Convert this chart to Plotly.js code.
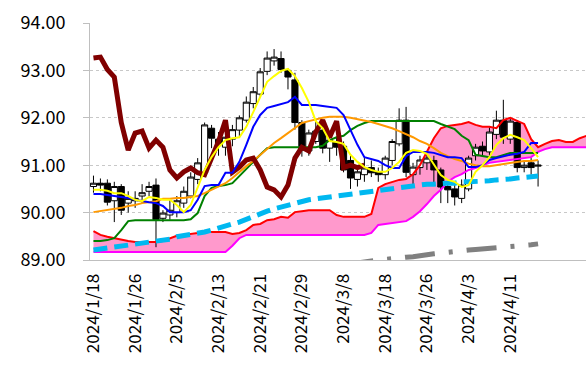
<!DOCTYPE html>
<html>
<head>
<meta charset="utf-8">
<script src="https://cdn.plot.ly/plotly-3.0.1.min.js"></script>
<style>html,body{margin:0;padding:0;background:#fff;}#chart{width:586px;height:379px;}</style>
</head>
<body>
<div id="chart"></div>
<script>
// Categories (business days)
const dates = ["2024/1/18","2024/1/19","2024/1/22","2024/1/23","2024/1/24","2024/1/25","2024/1/26","2024/1/29","2024/1/30","2024/1/31","2024/2/1","2024/2/2","2024/2/5","2024/2/6","2024/2/7","2024/2/8","2024/2/9","2024/2/12","2024/2/13","2024/2/14","2024/2/15","2024/2/16","2024/2/19","2024/2/20","2024/2/21","2024/2/22","2024/2/23","2024/2/26","2024/2/27","2024/2/28","2024/2/29","2024/3/1","2024/3/4","2024/3/5","2024/3/6","2024/3/7","2024/3/8","2024/3/11","2024/3/12","2024/3/13","2024/3/14","2024/3/15","2024/3/18","2024/3/19","2024/3/20","2024/3/21","2024/3/22","2024/3/25","2024/3/26","2024/3/27","2024/3/28","2024/3/29","2024/4/1","2024/4/2","2024/4/3","2024/4/4","2024/4/5","2024/4/8","2024/4/9","2024/4/10","2024/4/11","2024/4/12","2024/4/15","2024/4/16","2024/4/17","2024/4/18","2024/4/19","2024/4/22","2024/4/23","2024/4/24","2024/4/25","2024/4/26"];
const tickDates = ["2024/1/18","2024/1/26","2024/2/5","2024/2/13","2024/2/21","2024/2/29","2024/3/8","2024/3/18","2024/3/26","2024/4/3","2024/4/11"];

// OHLC
const open  = [90.55,90.62,90.62,90.25,90.55,90.2,90.3,90.35,90.45,90.58,89.88,89.95,90.0,90.2,90.35,90.7,90.84,91.78,91.55,91.38,91.55,91.74,91.95,92.3,92.5,92.98,93.2,93.25,93.0,92.8,91.9,91.3,91.5,91.74,91.36,91.5,91.4,91.1,90.7,90.8,90.95,90.86,90.8,91.1,91.45,91.95,90.8,90.95,91.05,91.1,90.9,90.55,90.5,90.3,90.5,91.2,91.4,91.28,91.65,91.95,91.55,91.9,90.95,91.05,90.98];
const high  = [90.78,90.72,90.7,90.65,90.6,90.45,90.45,90.6,90.65,90.72,90.05,90.3,90.35,90.55,90.85,91.15,91.9,91.85,91.7,91.65,91.85,92.05,92.45,92.65,93.05,93.4,93.45,93.4,93.05,92.95,91.95,91.75,91.95,91.85,91.6,91.6,91.5,91.2,91.0,91.15,91.1,90.95,91.2,91.55,92.2,92.23,91.05,91.2,91.25,91.2,90.95,90.65,90.65,90.7,91.2,91.45,91.5,91.8,92.15,92.38,91.98,91.95,91.1,91.15,91.1];
const low   = [90.42,90.45,90.15,89.8,89.95,90.0,90.1,90.2,90.35,89.27,89.8,89.85,89.9,90.1,90.3,90.6,90.8,91.36,91.2,91.2,91.4,91.6,91.9,92.2,92.45,92.9,93.1,92.95,92.6,91.75,91.18,91.2,91.45,91.25,91.07,91.2,90.85,90.5,90.55,90.65,90.75,90.65,90.7,91.0,91.4,90.75,90.6,90.8,90.9,90.6,90.2,90.2,90.15,90.2,90.45,91.1,91.2,91.2,91.55,91.45,91.45,90.85,90.85,90.8,90.55];
const close = [90.62,90.58,90.22,90.55,90.05,90.3,90.25,90.42,90.55,89.85,89.99,90.05,90.25,90.45,90.75,91.05,91.85,91.57,91.45,91.59,91.75,92.0,92.33,92.55,92.97,93.26,93.28,93.02,92.86,91.9,91.32,91.68,91.72,91.36,91.53,91.38,90.9,90.73,90.86,90.94,90.84,90.8,91.15,91.5,91.95,90.85,90.96,91.11,91.15,90.9,90.54,90.48,90.33,90.58,91.15,91.38,91.3,91.7,91.95,91.59,91.93,90.95,91.0,90.95,91.0];

// Indicator lines
const tenkan = [90.48,90.48,90.46,90.41,90.41,90.35,90.27,90.24,90.33,90.31,90.27,90.27,90.16,90.01,90.16,90.52,90.90,91.17,91.38,91.53,91.57,91.59,91.81,92.12,92.46,92.76,92.88,92.99,93.03,92.88,92.63,92.33,91.93,91.78,91.51,91.49,91.45,91.22,91.07,90.96,90.90,90.86,90.86,90.94,91.07,91.26,91.32,91.30,91.24,91.00,90.79,90.69,90.65,90.54,90.58,90.86,91.00,91.17,91.43,91.57,91.64,91.59,91.53,91.36,91.17];
const kijun = [90.39,90.39,90.37,90.35,90.33,90.31,90.27,90.24,90.22,90.20,90.14,90.01,90.01,90.01,90.05,90.27,90.56,90.58,90.58,90.84,90.84,91.07,91.43,91.81,92.06,92.21,92.25,92.29,92.33,92.44,92.27,92.27,92.27,92.25,92.23,92.21,92.06,91.74,91.43,91.17,91.13,91.09,91.00,90.94,90.94,91.19,91.28,91.28,91.28,91.26,91.22,91.17,91.17,91.15,90.96,90.96,91.00,91.11,91.15,91.19,91.22,91.24,91.28,91.47,91.47];
const spanA = [89.61,89.53,89.49,89.46,89.42,89.40,89.38,89.38,89.38,89.38,89.40,89.46,89.51,89.53,89.55,89.57,89.61,89.59,89.59,89.59,89.55,89.57,89.63,89.74,89.76,89.84,89.86,89.91,89.89,90.01,90.03,90.05,90.05,90.05,90.05,89.95,89.91,89.91,89.91,89.91,89.97,90.52,90.60,90.65,90.69,90.71,90.81,91.00,91.28,91.57,91.78,91.83,91.85,91.87,91.91,91.85,91.81,91.81,91.78,91.95,92.00,91.93,91.87,91.55,91.38,91.45,91.51,91.53,91.49,91.49,91.57,91.62];
const spanB = [89.17,89.17,89.17,89.17,89.17,89.17,89.17,89.17,89.17,89.17,89.17,89.17,89.17,89.17,89.17,89.17,89.17,89.17,89.17,89.17,89.30,89.46,89.53,89.53,89.53,89.53,89.53,89.53,89.53,89.53,89.53,89.53,89.53,89.53,89.53,89.53,89.53,89.53,89.53,89.53,89.57,89.74,89.76,89.78,89.80,89.82,89.91,90.03,90.18,90.35,90.48,90.65,90.75,90.81,90.90,90.94,91.00,91.05,91.07,91.09,91.11,91.13,91.15,91.17,91.28,91.34,91.38,91.38,91.38,91.38,91.38,91.38];
const maGreen = [89.40,89.40,89.42,89.46,89.63,89.82,89.84,89.84,89.84,89.84,89.84,89.84,89.84,89.84,89.86,89.99,90.35,90.52,90.56,90.58,90.62,90.77,90.94,91.07,91.22,91.36,91.38,91.38,91.38,91.38,91.38,91.38,91.38,91.41,91.53,91.59,91.62,91.74,91.83,91.89,91.93,91.93,91.93,91.93,91.93,91.93,91.93,91.93,91.93,91.93,91.87,91.81,91.76,91.62,91.53,91.22,91.19,91.17,91.17,91.22,91.26,91.26,91.26,91.26,91.26];
const maOrange = [90.01,90.03,90.05,90.08,90.10,90.14,90.16,90.20,90.22,90.24,90.29,90.29,90.31,90.31,90.33,90.35,90.41,90.48,90.54,90.62,90.73,90.86,90.98,91.09,91.22,91.34,91.47,91.57,91.68,91.78,91.89,91.93,91.97,92.00,92.02,92.02,92.02,92.00,91.97,91.95,91.91,91.87,91.83,91.78,91.72,91.66,91.59,91.51,91.45,91.36,91.26,91.19,91.13,91.09,91.03,91.00,90.98,90.98,91.00,91.03,91.05,91.07,91.09,91.09,91.11];
const maCyan = [89.21,89.23,89.25,89.27,89.30,89.32,89.34,89.36,89.38,89.40,89.42,89.44,89.49,89.51,89.53,89.57,89.59,89.63,89.68,89.72,89.76,89.80,89.86,89.93,89.99,90.03,90.08,90.12,90.14,90.18,90.22,90.27,90.29,90.31,90.33,90.35,90.37,90.39,90.41,90.43,90.46,90.48,90.50,90.52,90.54,90.56,90.58,90.58,90.60,90.60,90.62,90.62,90.62,90.65,90.65,90.65,90.67,90.67,90.69,90.69,90.71,90.73,90.75,90.75,90.77];
const grayStart = 36;
const maGray = [88.89,88.92,88.94,88.96,88.98,89.00,89.01,89.02,89.04,89.06,89.07,89.08,89.11,89.13,89.15,89.17,89.18,89.19,89.21,89.22,89.23,89.25,89.26,89.27,89.27,89.30,89.31,89.32,89.34];
const chikouShift = 25;

const FONT = '"Noto Sans CJK JP", "Noto Sans", sans-serif';
const n = close.length;
const xd = dates.slice(0, n);

const traces = [
  // cloud fill (base subplot, beneath candles)
  {x: dates, y: spanB, type:'scatter', mode:'lines', line:{width:0, color:'rgba(0,0,0,0)'}, xaxis:'x', yaxis:'y', hoverinfo:'skip'},
  {x: dates, y: spanA, type:'scatter', mode:'lines', fill:'tonexty', fillcolor:'#FF99CC', line:{width:0, color:'rgba(0,0,0,0)'}, xaxis:'x', yaxis:'y', hoverinfo:'skip'},
  // candles
  {x: xd, open: open, high: high, low: low, close: close, type:'candlestick', xaxis:'x', yaxis:'y2',
   increasing:{line:{color:'#000000', width:1}, fillcolor:'#FFFFFF'},
   decreasing:{line:{color:'#000000', width:1}, fillcolor:'#000000'}, whiskerwidth:0},
  // lines on top
  {x: dates, y: spanB, type:'scatter', mode:'lines', line:{color:'#FF00FF', width:2}, xaxis:'x', yaxis:'y2'},
  {x: dates, y: spanA, type:'scatter', mode:'lines', line:{color:'#FF0000', width:2}, xaxis:'x', yaxis:'y2'},
  {x: xd, y: maCyan, type:'scatter', mode:'lines', line:{color:'#00B8F0', width:5, dash:'14px,7px'}, xaxis:'x', yaxis:'y2'},
  {x: dates.slice(grayStart, grayStart + maGray.length), y: maGray, type:'scatter', mode:'lines', line:{color:'#808080', width:5, dash:'30px,14px,4px,14px'}, xaxis:'x', yaxis:'y2'},
  {x: xd, y: maGreen, type:'scatter', mode:'lines', line:{color:'#008000', width:2}, xaxis:'x', yaxis:'y2'},
  {x: xd, y: maOrange, type:'scatter', mode:'lines', line:{color:'#FF9900', width:2}, xaxis:'x', yaxis:'y2'},
  {x: dates.slice(0, n - chikouShift), y: close.slice(chikouShift), type:'scatter', mode:'lines', line:{color:'#800000', width:5}, xaxis:'x', yaxis:'y2'},
  {x: xd, y: kijun, type:'scatter', mode:'lines', line:{color:'#0000FF', width:2}, xaxis:'x', yaxis:'y2'},
  {x: xd, y: tenkan, type:'scatter', mode:'lines', line:{color:'#FFFF00', width:2}, xaxis:'x', yaxis:'y2'}
];

const layout = {
  width: 586, height: 379,
  margin: {l: 90, r: 0, t: 23, b: 119, pad: 0},
  paper_bgcolor: '#ffffff', plot_bgcolor: '#ffffff',
  showlegend: false,
  boxgap: 0.12, boxgroupgap: 0,
  font: {family: FONT, color: '#000000'},
  xaxis: {
    type: 'category', categoryorder: 'array', categoryarray: dates,
    range: [-0.5, 70.9], fixedrange: true,
    tickmode: 'array', tickvals: tickDates, ticktext: tickDates,
    tickangle: -90, tickfont: {family: FONT, size: 17, color: '#000000'},
    ticks: '', showgrid: false, zeroline: false,
    showline: true, linecolor: '#BFBFBF', linewidth: 1,
    rangeslider: {visible: false}, ticklabelstandoff: 6
  },
  yaxis: {
    range: [89, 94], fixedrange: true, tick0: 89, dtick: 1, tickformat: '.2f',
    tickfont: {family: FONT, size: 18, color: '#000000'},
    showgrid: true, gridcolor: '#C8C8C8', griddash: 'dot', gridwidth: 1,
    zeroline: false, showline: true, linecolor: '#BFBFBF', linewidth: 1,
    ticks: 'outside', ticklen: 6, tickcolor: '#BFBFBF', ticklabelstandoff: 14
  },
  yaxis2: {range: [89, 94], overlaying: 'y', visible: false, fixedrange: true}
};

Plotly.newPlot('chart', traces, layout, {staticPlot: true, displayModeBar: false});
</script>
</body>
</html>
